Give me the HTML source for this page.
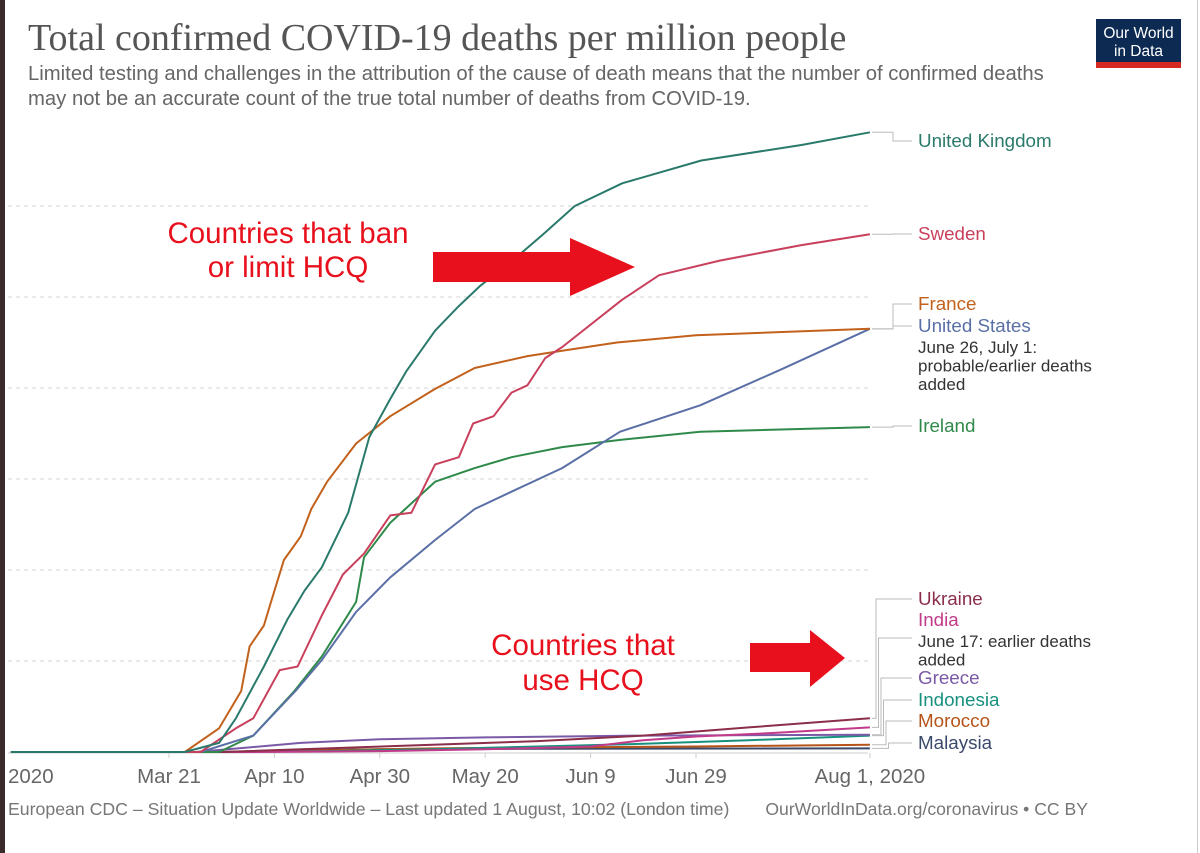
<!DOCTYPE html>
<html><head><meta charset="utf-8"><style>
body{margin:0;background:#fff;width:1200px;height:853px;overflow:hidden;font-family:"Liberation Sans",sans-serif}
svg{display:block}
</style></head><body>
<svg id="chart" width="1200" height="853" xmlns="http://www.w3.org/2000/svg">
<rect x="0" y="0" width="5" height="853" fill="#3a2a2c"/>
<rect x="1197" y="0" width="1" height="853" fill="#ccc"/>
<text x="28" y="50" font-family="Liberation Serif,serif" font-size="38" fill="#555">Total confirmed COVID-19 deaths per million people</text>
<text x="28" y="80" font-size="20.3" fill="#666">Limited testing and challenges in the attribution of the cause of death means that the number of confirmed deaths</text>
<text x="28" y="105" font-size="20.3" fill="#666">may not be an accurate count of the true total number of deaths from COVID-19.</text>
<g>
<rect x="1096" y="19" width="85" height="44" fill="#0c2a52"/>
<rect x="1096" y="62" width="85" height="6" fill="#d42a22"/>
<text x="1138.5" y="38" text-anchor="middle" font-size="15.5" fill="#fff">Our World</text>
<text x="1138.5" y="56" text-anchor="middle" font-size="15.5" fill="#fff">in Data</text>
</g>
<g id="grid"></g>
<g id="xaxis"></g>
<g id="series"></g>
<g id="labels"></g>
<g fill="#e8101c">
<text x="288" y="243" text-anchor="middle" font-size="29.5">Countries that ban</text>
<text x="288" y="277" text-anchor="middle" font-size="29.5">or limit HCQ</text>
<polygon points="433,252 570,252 570,238 635,267 570,296 570,282 433,282"/>
</g>
<g fill="#e8101c">
<text x="583" y="655" text-anchor="middle" font-size="29.5">Countries that</text>
<text x="583" y="690" text-anchor="middle" font-size="29.5">use HCQ</text>
<polygon points="750,643 810,643 810,630 845,658 810,687 810,672 750,672"/>
</g>
<text x="8" y="815" font-size="17.7" fill="#777">European CDC – Situation Update Worldwide – Last updated 1 August, 10:02 (London time)</text>
<text x="1088" y="815" text-anchor="end" font-size="17.6" fill="#777">OurWorldInData.org/coronavirus • CC BY</text>
</svg>
<script>
// days offset from Mar 21, values in deaths per million
const xTicks = [-26.6, 0, 20, 40, 60, 80, 100, 133];
const xTickLabels = ["2020","Mar 21","Apr 10","Apr 30","May 20","Jun 9","Jun 29","Aug 1, 2020"];
const yGrid = [100,200,300,400,500,600];
const ukDays = [-30,3,9.5,12.7,18,22.5,25.7,29,34,38,42,45,50.5,55,59,65,71,77,86,101,120,133];
const ukVals = [0,0,10,37,94,146,177,203,263,346,388,418,463,490,512,539,569,600,625,650,667,681];
const swDays = [-30,6,12.7,16,21,24.4,29,33,37,42,46,50.5,55,57.7,61.6,65,68,71.4,74.6,86,93,104.5,120,133];
const swVals = [0,0,26,37,90,94,150,195,218,260,263,316,324,361,369,395,403,433,445,497,524,540,557,569];
const frDays = [-30,3,9.5,13.7,15.3,18,19.2,21.8,25,27,30,35.5,42,50.5,58,68,74.6,85,100,133];
const frVals = [0,0,26,67,116,139,162,211,237,267,297,339,369,399,422,435,441,450,458,465];
const usDays = [-30,6,16,24,29,35.5,42,50.5,58,65,74.6,85.6,100.8,116,133];
const usVals = [0,0,18,67,101,154,192,233,267,286,312,352,381,420,465];
const ieDays = [-30,9.5,16,23.8,29,35.5,37,42,50.5,58,65,74.6,85.6,100.8,133];
const ieVals = [0,0,18,67,105,165,214,252,297,312,324,335,343,352,357];
const uaDays = [-30,10,30,50,70,90,110,133];
const uaVals = [0,0,4,8,12,18,27,37];
const inDays = [-30,15,40,60,80,90,100,115,133];
const inVals = [0,0,1,3,6,13,17,21,27];
const grDays = [-30,5,15,25,40,60,90,133];
const grVals = [0,0,5,10,14,16,18,19];
const idDays = [-30,10,30,50,70,90,110,133];
const idVals = [0,0,1,3,6,9,13,18];
const maDays = [-30,10,30,50,70,100,133];
const maVals = [0,0,2,4,5,6,8];
const myDays = [-30,10,25,40,70,133];
const myVals = [0,0,2,3,3.5,4];

const NS="http://www.w3.org/2000/svg";
const X0=169, PXD=5.27, Y0=752, PXV=0.91, XMIN=8, XMAX=868;
const xs=d=>Math.max(XMIN, X0+d*PXD);
const ys=v=>Y0-v*PXV;
function mk(tag,attrs,parent){const e=document.createElementNS(NS,tag);for(const k in attrs)e.setAttribute(k,attrs[k]);parent.appendChild(e);return e;}

const grid=document.getElementById('grid');
yGrid.forEach(v=>{
  const l=mk('line',{x1:XMIN,x2:XMAX,y1:ys(v),y2:ys(v),stroke:'#d6d6d6','stroke-dasharray':'4,4'},grid);
  
  
});
const ax=document.getElementById('xaxis');
const base=mk('line',{x1:XMIN,x2:XMAX,y1:Y0+1,y2:Y0+1,stroke:'#ccc'},ax);


xTicks.forEach((d,i)=>{
  const x=X0+d*PXD;
  if(i>0){const t=mk('line',{x1:x,x2:x,y1:Y0+1,y2:Y0+6,stroke:'#ccc'},ax);
    
    }
  const tx=mk('text',{x:i==0?8:x,y:783,'text-anchor':i==0?'start':'middle','font-size':20.5,fill:'#666'},ax);
  tx.textContent=xTickLabels[i];
  
  
});

const series=[
 ['malaysia',myDays,myVals,'#3b4a6b'],['morocco',maDays,maVals,'#b5541a'],['indonesia',idDays,idVals,'#18907e'],
 ['greece',grDays,grVals,'#7a5aa6'],['india',inDays,inVals,'#c23a8a'],['ukraine',uaDays,uaVals,'#8b2e4a'],
 ['ireland',ieDays,ieVals,'#2f8a4a'],['united-states',usDays,usVals,'#5a6fa6'],['france',frDays,frVals,'#c2611b'],
 ['sweden',swDays,swVals,'#c9405c'],['united-kingdom',ukDays,ukVals,'#2a7a6b']];
const sg=document.getElementById('series');
series.forEach(([n,ds,vs,c])=>{
  const p=mk('polyline',{points:ds.map((d,i)=>xs(d).toFixed(1)+','+ys(vs[i]).toFixed(1)).join(' '),fill:'none',stroke:c,'stroke-width':2,'stroke-linejoin':'round'},sg);
  
  
});

const lg=document.getElementById('labels');
const labs=[
 ['United Kingdom',ukVals,141,'#2a7a6b',[]],
 ['Sweden',swVals,234,'#c9405c',[]],
 ['France',frVals,304,'#c2611b',[]],
 ['United States',usVals,326,'#5a6fa6',['June 26, July 1:','probable/earlier deaths','added']],
 ['Ireland',ieVals,426,'#2f8a4a',[]],
 ['Ukraine',uaVals,599,'#8b2e4a',[]],
 ['India',inVals,620,'#c23a8a',['June 17: earlier deaths','added']],
 ['Greece',grVals,678,'#7a5aa6',[]],
 ['Indonesia',idVals,700,'#18907e',[]],
 ['Morocco',maVals,721,'#b5541a',[]],
 ['Malaysia',myVals,743,'#3b4a6b',[]]];
labs.forEach(([name,vals,ly,c,notes],i)=>{
  const endY=ys(vals[vals.length-1]);
  const bx = i<5 ? 893 : 876+ (i-5)*2.5;
  const connY = notes.length && i==6 ? ly+18 : ly;
  const pl=mk('polyline',{points:`872,${endY} ${bx},${endY} ${bx},${connY} 912,${connY}`,fill:'none',stroke:'#bbb','stroke-width':1},lg);
  
  
  const t=mk('text',{x:918,y:ly+6,'font-size':18.8,fill:c},lg);
  t.textContent=name;
  
  
  notes.forEach((s,j)=>{
    const nt=mk('text',{x:918,y:ly+27+j*18.5,'font-size':17,fill:'#333'},lg);
    nt.textContent=s;
    
    
  });
});
</script>
</body></html>
